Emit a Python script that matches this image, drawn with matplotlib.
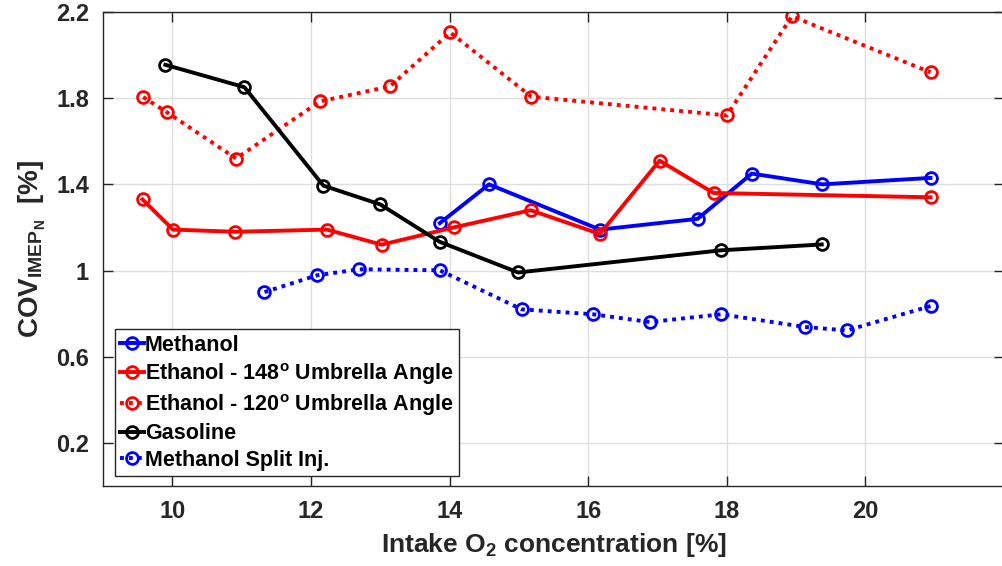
import numpy as np
import matplotlib
matplotlib.use("Agg")
import matplotlib.pyplot as plt

plt.rcParams['font.family'] = ['Liberation Sans', 'DejaVu Sans']
plt.rcParams['font.weight'] = 'bold'
plt.rcParams['mathtext.fontset'] = 'custom'
plt.rcParams['mathtext.rm'] = 'Liberation Sans:bold'
plt.rcParams['mathtext.bf'] = 'Liberation Sans:bold'
plt.rcParams['mathtext.it'] = 'Liberation Sans:bold'

# COV of IMEP_N vs intake oxygen concentration
o2_methanol = [13.86, 14.57, 16.17, 17.58, 18.36, 19.38, 20.94]
cov_methanol = [1.22, 1.40, 1.19, 1.24, 1.45, 1.40, 1.43]

o2_eth148 = [9.57, 10.01, 10.91, 12.23, 13.02, 14.06, 15.17, 16.17, 17.03, 17.81, 20.94]
cov_eth148 = [1.33, 1.19, 1.18, 1.19, 1.12, 1.20, 1.28, 1.17, 1.51, 1.36, 1.34]

o2_eth120 = [9.58, 9.92, 10.92, 12.13, 13.14, 14.01, 15.18, 18.00, 18.94, 20.94]
cov_eth120 = [1.805, 1.735, 1.52, 1.785, 1.855, 2.105, 1.807, 1.72, 2.18, 1.92]

o2_gasoline = [9.90, 11.04, 12.18, 13.00, 13.86, 14.99, 17.92, 19.37]
cov_gasoline = [1.955, 1.851, 1.394, 1.307, 1.133, 0.991, 1.094, 1.121]

o2_split = [11.33, 12.09, 12.70, 13.86, 15.04, 16.07, 16.89, 17.92, 19.13, 19.73, 20.94]
cov_split = [0.90, 0.978, 1.006, 1.001, 0.82, 0.797, 0.761, 0.797, 0.738, 0.722, 0.835]

x_ticks = [10, 12, 14, 16, 18, 20]
y_ticks = [0.2, 0.6, 1.0, 1.4, 1.8, 2.2]
y_tick_labels = ['0.2', '0.6', '1', '1.4', '1.8', '2.2']

fig = plt.figure(figsize=(10.03, 5.66), dpi=100)
ax = fig.add_axes([103 / 1003, 80 / 566, 901 / 1003, 474 / 566])

lw = 2.8
ms = 8.5
mew = 2.0
style = dict(marker='o', markersize=ms, markeredgewidth=mew, markerfacecolor='none', linewidth=lw)

ax.plot(o2_methanol, cov_methanol, color='#0000ff', linestyle='-', label='Methanol', **style)
ax.plot(o2_eth148, cov_eth148, color='#ff0000', linestyle='-',
        label=r'Ethanol - 148$^{\mathbf{o}}$ Umbrella Angle', **style)
ax.plot(o2_eth120, cov_eth120, color='#ff0000', linestyle=(0, (1, 1.3)),
        label=r'Ethanol - 120$^{\mathbf{o}}$ Umbrella Angle', **style)
ax.plot(o2_gasoline, cov_gasoline, color='black', linestyle='-', label='Gasoline', **style)
ax.plot(o2_split, cov_split, color='#0000ff', linestyle=(0, (1, 1.3)),
        label='Methanol Split Inj.', **style)

ax.set_xlim(9, 22)
ax.set_ylim(0, 2.2)
ax.set_xticks(x_ticks)
ax.set_yticks(y_ticks)
ax.set_yticklabels(y_tick_labels)

ax.grid(True, color='#dedede', linewidth=1.0)
ax.set_axisbelow(True)
ax.tick_params(direction='in', length=7, width=1.0, colors='#262626', labelsize=17,
               top=True, right=True, pad=10)
for lab in ax.get_xticklabels() + ax.get_yticklabels():
    lab.set_fontweight('bold')
for sp in ax.spines.values():
    sp.set_color('#262626')
    sp.set_linewidth(1.0)

ax.set_xlabel(r'Intake O$_{\mathbf{2}}$ concentration [%]', fontsize=19, fontweight='bold',
              color='#262626', labelpad=6)
ax.set_ylabel(r'COV$_{\mathbf{IMEP}_{\mathbf{N}}}$  [%]', fontsize=20, fontweight='bold',
              color='#262626', labelpad=6)

leg = ax.legend(loc='lower left', bbox_to_anchor=(0.013, 0.021), borderaxespad=0,
                fontsize=15.5, handlelength=1.1, handletextpad=0.05, borderpad=0.25,
                labelspacing=0.25, frameon=True, fancybox=False, framealpha=1)
leg.get_frame().set_edgecolor('#262626')
leg.get_frame().set_linewidth(1.0)
for t in leg.get_texts():
    t.set_fontweight('bold')

fig.savefig('out.png', dpi=100)
